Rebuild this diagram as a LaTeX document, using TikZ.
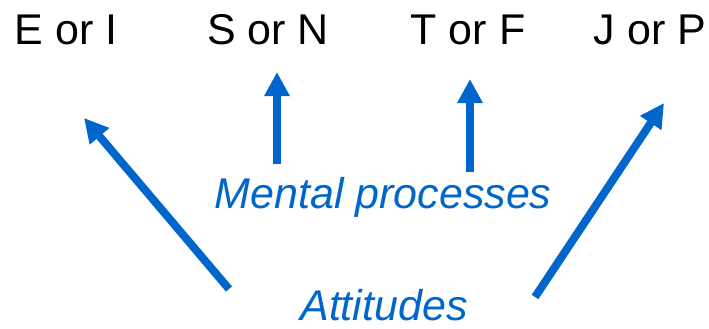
\documentclass[tikz,border=0pt]{standalone}
\usepackage{fontspec}
\setmainfont{Liberation Sans}
\usetikzlibrary{arrows.meta}
\definecolor{typeblue}{RGB}{0,102,204}
\tikzset{
  pair/.style={anchor=base,inner sep=0pt,font=\fontsize{43}{50}\selectfont},
  group/.style={anchor=base,inner sep=0pt,text=typeblue,font=\fontsize{43}{50}\selectfont\itshape},
  pointer/.style={draw=typeblue,line width=8pt,-{Triangle[length=24pt,width=24pt]}}
}
\begin{document}
\begin{tikzpicture}[x=1pt,y=-1pt]
	\useasboundingbox (0,0) rectangle (709,329);
	% top row
	\node[pair] (ei) at (66,45) {E or I};
	\node[pair] (sn) at (268,45) {S or N};
	\node[pair] (tf) at (468,45) {T or F};
	\node[pair] (jp) at (650,45) {J or P};
	% the two groups
	\node[group] (mental) at (383,208) {Mental processes};
	\node[group] (att) at (384,320) {Attitudes};
	% arrow ends
	\coordinate (ei-in) at (84,118);
	\coordinate (sn-in) at (277,72);
	\coordinate (tf-in) at (470,79);
	\coordinate (jp-in) at (664,103);
	\coordinate (att-l) at (229,289);
	\coordinate (att-r) at (535,297);
	\coordinate (mental-l) at (277,164);
	\coordinate (mental-r) at (470,172);
	\draw[pointer] (att-l) -- (ei-in);
	\draw[pointer] (mental-l) -- (sn-in);
	\draw[pointer] (mental-r) -- (tf-in);
	\draw[pointer] (att-r) -- (jp-in);
\end{tikzpicture}
\end{document}
